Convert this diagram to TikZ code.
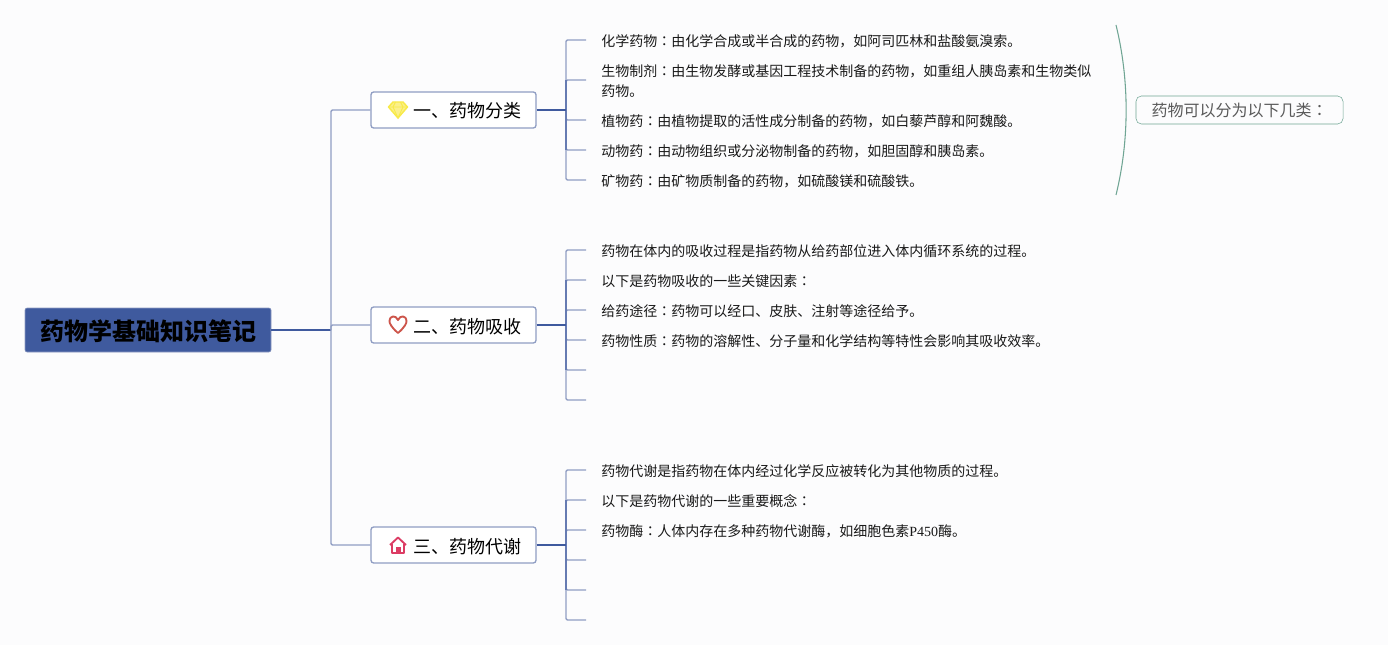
\documentclass[tikz,border=0pt]{standalone}
\usepackage{fontspec}
\setmainfont{Noto Sans CJK SC}
\newfontfamily\tcfont{Noto Sans CJK TC}
\newfontfamily\latinfont{Liberation Serif}
\newcommand{\mh}{{\tcfont ：}}
\usetikzlibrary{positioning,calc}
\definecolor{pagebg}{HTML}{FCFCFD}
\definecolor{rootblue}{HTML}{3F5A9E}
\definecolor{linelight}{HTML}{8F9DC3}
\definecolor{linemid}{HTML}{667BB2}
\definecolor{teal1}{HTML}{6FA594}
\definecolor{gemyellow}{HTML}{F8EA4A}
\definecolor{gemfill}{HTML}{FBF08A}
\definecolor{heartred}{HTML}{CD554B}
\definecolor{housepink}{HTML}{DC3C64}
\begin{document}
\begin{tikzpicture}[x=0.75pt,y=-0.75pt]

\tikzstyle{rootnode}=[draw=linelight,fill=rootblue,rounded corners=1.5pt,minimum width=184.5pt,minimum height=33pt,inner sep=0pt,text height=15.7pt,text depth=0pt,font=\fontsize{18}{20}\selectfont\bfseries]
\tikzstyle{topicnode}=[draw=linelight,line width=1pt,fill=white,rounded corners=2pt,minimum width=123.75pt,minimum height=27pt,inner sep=0pt,text height=12pt,text depth=0pt,font=\fontsize{13.5}{16}\selectfont]
\tikzstyle{leafnode}=[anchor=west,inner xsep=11.25pt,inner ysep=0pt,align=left,yshift=-0.9pt,text=black!90,font=\fontsize{10.5}{15}\selectfont]
\tikzstyle{notenode}=[draw=teal1,fill=pagebg,rounded corners=4pt,minimum width=155.25pt,minimum height=21pt,inner sep=0pt,text=black!65,font=\fontsize{12}{16}\selectfont]
\tikzstyle{branchline}=[draw=linelight,line width=1.1pt]
\tikzstyle{midline}=[draw=linemid,line width=1.2pt]
\tikzstyle{mainline}=[draw=rootblue,line width=1.2pt]

\useasboundingbox[fill=pagebg] (0,0) rectangle (1388,645);

% NODES
\node[rootnode](root) at (148,330){药物学基础知识笔记};

\coordinate(rootfork) at (331,330);
\coordinate(fork1) at (566,110);
\coordinate(fork2) at (566,325);
\coordinate(fork3) at (566,545);

\node[topicnode](topic1) at (453.5,110){\hspace*{21pt}一、药物分类};
\node[topicnode](topic2) at (453.5,325){\hspace*{21pt}二、药物吸收};
\node[topicnode](topic3) at (453.5,545){\hspace*{21pt}三、药物代谢};

% first branch
\coordinate(a1end) at (586,40);
\coordinate(a2end) at (586,80);
\coordinate(a3end) at (586,120);
\coordinate(a4end) at (586,150);
\coordinate(a5end) at (586,180);
\node[leafnode](a1) at (a1end){化学药物\mh 由化学合成或半合成的药物，如阿司匹林和盐酸氨溴索。};
\node[leafnode](a2) at (a2end){生物制剂\mh 由生物发酵或基因工程技术制备的药物，如重组人胰岛素和生物类似\\药物。};
\node[leafnode](a3) at (a3end){植物药\mh 由植物提取的活性成分制备的药物，如白藜芦醇和阿魏酸。};
\node[leafnode](a4) at (a4end){动物药\mh 由动物组织或分泌物制备的药物，如胆固醇和胰岛素。};
\node[leafnode](a5) at (a5end){矿物药\mh 由矿物质制备的药物，如硫酸镁和硫酸铁。};

% second branch
\coordinate(b1end) at (586,250);
\coordinate(b2end) at (586,280);
\coordinate(b3end) at (586,310);
\coordinate(b4end) at (586,340);
\coordinate(b5end) at (586,370);
\coordinate(b6end) at (586,400);
\node[leafnode](b1) at (b1end){药物在体内的吸收过程是指药物从给药部位进入体内循环系统的过程。};
\node[leafnode](b2) at (b2end){以下是药物吸收的一些关键因素\mh};
\node[leafnode](b3) at (b3end){给药途径\mh 药物可以经口、皮肤、注射等途径给予。};
\node[leafnode](b4) at (b4end){药物性质\mh 药物的溶解性、分子量和化学结构等特性会影响其吸收效率。};

% third branch
\coordinate(c1end) at (586,470);
\coordinate(c2end) at (586,500);
\coordinate(c3end) at (586,530);
\coordinate(c4end) at (586,560);
\coordinate(c5end) at (586,590);
\coordinate(c6end) at (586,620);
\node[leafnode](c1) at (c1end){药物代谢是指药物在体内经过化学反应被转化为其他物质的过程。};
\node[leafnode](c2) at (c2end){以下是药物代谢的一些重要概念\mh};
\node[leafnode](c3) at (c3end){药物酶\mh 人体内存在多种药物代谢酶，如细胞色素{\latinfont P450}酶。};

% summary
\coordinate(bracetop) at (1116,25);
\coordinate(bracebot) at (1116,195);
\node[notenode](note) at (1239.5,110){药物可以分为以下几类\mh};

% ARROWS
\draw[mainline](root.east) -- (rootfork);
\foreach \t in {topic1,topic2,topic3}
  \draw[branchline,rounded corners=1pt](rootfork) |- (\t.west);

\foreach \l in {a1end,a2end,a3end,a4end,a5end}
  \draw[branchline,rounded corners=1pt](fork1) |- (\l);
\foreach \l in {b1end,b2end,b3end,b4end,b5end,b6end}
  \draw[branchline,rounded corners=1pt](fork2) |- (\l);
\foreach \l in {c1end,c2end,c3end,c4end,c5end,c6end}
  \draw[branchline,rounded corners=1pt](fork3) |- (\l);

% darker inner part of each fork
\draw[midline](fork1 |- a2end) -- (fork1 |- a4end);
\draw[midline](fork2 |- b2end) -- (fork2 |- b5end);
\draw[midline](fork3 |- c2end) -- (fork3 |- c5end);
\draw[mainline](topic1.east) -- (fork1);
\draw[mainline](topic2.east) -- (fork2);
\draw[mainline](topic3.east) -- (fork3);

\draw[teal1,line width=0.8pt](bracetop) .. controls (1129.5,80) and (1129.5,140) .. (bracebot);

% ICONS
\draw[gemyellow,line width=1.1pt,line join=round,fill=gemfill] (393,102) -- (403,102) -- (407.5,107) -- (398,118) -- (388.5,107) -- cycle;
\draw[gemyellow,line width=0.7pt] (388.5,107) -- (407.5,107) (393,107) -- (398,118) -- (403,107) (393,107) -- (395.5,102) (403,107) -- (400.5,102);
\draw[heartred,line width=1.4pt,line join=round]
  (398,333) .. controls (391,327) and (389.5,323) .. (389.5,321.5) .. controls (389.5,315) and (396,315) .. (398,320) .. controls (400,315) and (406.5,315) .. (406.5,321.5) .. controls (406.5,323) and (405,327) .. (398,333) -- cycle;
\draw[housepink,line width=1.4pt,line join=round] (390,545) -- (398,537.5) -- (406,545) (392,544) -- (392,553) -- (404,553) -- (404,544);
\fill[housepink] (395.5,546.5) rectangle (400.5,553);

\end{tikzpicture}
\end{document}
